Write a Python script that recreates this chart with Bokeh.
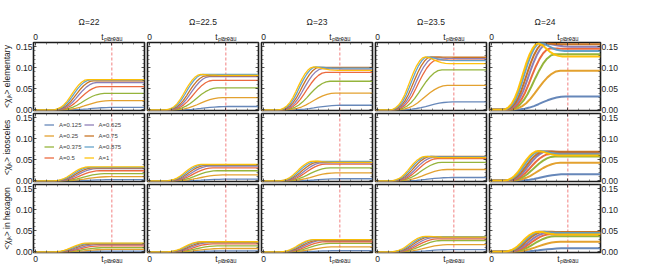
import numpy as np
from bokeh.plotting import figure
from bokeh.layouts import column, row
from bokeh.models import (LinearAxis, FixedTicker, PrintfTickFormatter, Span,
                          Legend, LegendItem, Range1d, CustomLabelingPolicy)
from bokeh.embed import file_html
from bokeh.resources import INLINE

# ---------------- data ----------------
A_LABELS = ["A=0.125", "A=0.25", "A=0.375", "A=0.5", "A=0.625", "A=0.75", "A=0.875", "A=1"]
COLORS = ["#5E81B5", "#E19C24", "#8FB032", "#EB6235", "#8778B3", "#C56E1A", "#5D9EC7", "#FFBF00"]
OMEGAS = ["Ω=22", "Ω=22.5", "Ω=23", "Ω=23.5", "Ω=24"]
ROW_LABELS = ["<χⱼₖ> elementary", "<χⱼₖ> isosceles", "<χⱼₖ> in hexagon"]
T_PLATEAU = 0.7
X_TICK_LABELS = ["0", "tₚₗₐₜₑₐᵤ"]
Y_TICKS = [0.0, 0.05, 0.10, 0.15]

# final (plateau) value of each curve, one list per Omega, A = 0.125 ... 1
PLATEAU_ELEMENTARY = [
    [0.006, 0.022, 0.039, 0.055, 0.065, 0.069, 0.071, 0.072],
    [0.008, 0.029, 0.052, 0.070, 0.079, 0.081, 0.084, 0.082],
    [0.011, 0.040, 0.068, 0.089, 0.097, 0.101, 0.099, 0.094],
    [0.019, 0.058, 0.095, 0.118, 0.122, 0.125, 0.117, 0.110],
    [0.032, 0.093, 0.132, 0.145, 0.150, 0.156, 0.140, 0.127],
]
# maximum value reached during the rise (overshoot)
PEAK_ELEMENTARY = [
    [0.006, 0.022, 0.039, 0.055, 0.065, 0.069, 0.071, 0.072],
    [0.008, 0.029, 0.052, 0.070, 0.079, 0.081, 0.084, 0.084],
    [0.011, 0.040, 0.068, 0.089, 0.098, 0.101, 0.102, 0.102],
    [0.019, 0.058, 0.095, 0.119, 0.124, 0.126, 0.126, 0.126],
    [0.032, 0.093, 0.132, 0.146, 0.157, 0.158, 0.160, 0.158],
]
PLATEAU_ISOSCELES = [
    [0.003, 0.010, 0.017, 0.024, 0.029, 0.031, 0.032, 0.033],
    [0.004, 0.014, 0.024, 0.031, 0.035, 0.037, 0.038, 0.039],
    [0.005, 0.019, 0.031, 0.040, 0.043, 0.045, 0.046, 0.044],
    [0.008, 0.027, 0.044, 0.053, 0.056, 0.058, 0.057, 0.055],
    [0.016, 0.043, 0.058, 0.064, 0.068, 0.069, 0.063, 0.060],
]
PEAK_ISOSCELES = [
    [0.003, 0.010, 0.017, 0.024, 0.029, 0.031, 0.032, 0.033],
    [0.004, 0.014, 0.024, 0.031, 0.035, 0.037, 0.038, 0.039],
    [0.005, 0.019, 0.031, 0.040, 0.043, 0.045, 0.046, 0.047],
    [0.008, 0.027, 0.044, 0.053, 0.056, 0.058, 0.058, 0.058],
    [0.016, 0.043, 0.058, 0.064, 0.070, 0.070, 0.071, 0.071],
]
PLATEAU_HEXAGON = [
    [0.002, 0.006, 0.010, 0.014, 0.017, 0.019, 0.020, 0.021],
    [0.0025, 0.008, 0.014, 0.019, 0.022, 0.023, 0.024, 0.024],
    [0.003, 0.012, 0.020, 0.024, 0.027, 0.028, 0.029, 0.029],
    [0.0055, 0.017, 0.027, 0.031, 0.034, 0.036, 0.036, 0.035],
    [0.0085, 0.024, 0.037, 0.042, 0.045, 0.047, 0.045, 0.041],
]
PEAK_HEXAGON = [
    [0.002, 0.006, 0.010, 0.014, 0.017, 0.019, 0.020, 0.021],
    [0.0025, 0.008, 0.014, 0.019, 0.022, 0.023, 0.024, 0.024],
    [0.003, 0.012, 0.020, 0.024, 0.027, 0.028, 0.029, 0.029],
    [0.0055, 0.017, 0.027, 0.031, 0.034, 0.036, 0.036, 0.037],
    [0.0085, 0.024, 0.037, 0.042, 0.045, 0.048, 0.048, 0.048],
]

# timing (fraction of the time axis)
RISE_START = [0.20, 0.18, 0.17, 0.16, 0.15, 0.14, 0.13, 0.12]
RISE_END = [0.70, 0.65, 0.60, 0.56, 0.53, 0.50, 0.47, 0.45]
OMEGA_SHIFT = [0.03, 0.02, 0.01, -0.01, -0.02]
# normalised shape of the rise and of the relaxation after the overshoot
RISE_PROFILE = [0, 0.01, 0.04, 0.09, 0.17, 0.28, 0.42, 0.57, 0.71, 0.83, 0.92, 0.98, 1.0]
DECAY_LENGTH = 0.22
DECAY_PROFILE = [0, 0.15, 0.42, 0.68, 0.86, 0.96, 1.0]

PLATEAUS = [PLATEAU_ELEMENTARY, PLATEAU_ISOSCELES, PLATEAU_HEXAGON]
PEAKS = [PEAK_ELEMENTARY, PEAK_ISOSCELES, PEAK_HEXAGON]

# ---------------- layout ----------------
FONT = "Liberation Sans"
FW, FH = 111, 68
X0, X1 = -0.02, 1.0
Y0, Y1 = -0.0015, 0.16
TICK_COLOR = "#333333"
PAD = 6          # vertical canvas padding so edge labels are not clipped


def curve(plat, peak, i, c):
    t0 = RISE_START[i] + OMEGA_SHIFT[c]
    t1 = RISE_END[i] + OMEGA_SHIFT[c]
    n = len(RISE_PROFILE) - 1
    ts = [X0] + [t0 + (t1 - t0) * k / n for k in range(n + 1)]
    ys = [0.0] + [peak * f for f in RISE_PROFILE]
    m = len(DECAY_PROFILE) - 1
    for k in range(1, m + 1):
        ts.append(t1 + DECAY_LENGTH * k / m)
        ys.append(peak - (peak - plat) * DECAY_PROFILE[k])
    ts.append(X1)
    ys.append(plat)
    return ts, ys


def style_axis(ax, labelled):
    ax.axis_line_color = None
    ax.major_tick_in = 3
    ax.major_tick_out = 0
    ax.minor_tick_in = 2
    ax.minor_tick_out = 0
    ax.major_tick_line_color = TICK_COLOR
    ax.minor_tick_line_color = TICK_COLOR
    ax.major_tick_line_width = 0.8
    ax.minor_tick_line_width = 0.6
    ax.major_label_text_font = FONT
    ax.major_label_text_color = "#222222"
    if labelled:
        ax.major_label_text_font_size = "8.5px"
        ax.major_label_standoff = 1
    else:
        ax.major_label_text_font_size = "1px"
        ax.major_label_standoff = 0
        ax.major_label_policy = CustomLabelingPolicy(code="return new Set()")


def y_axis(labelled):
    ax = LinearAxis(ticker=FixedTicker(ticks=Y_TICKS,
                                       minor_ticks=[k * 0.01 for k in range(17)]),
                    formatter=PrintfTickFormatter(format="%.2f"))
    style_axis(ax, labelled)
    return ax


def x_axis(labelled):
    ax = LinearAxis(ticker=FixedTicker(ticks=[0.0, T_PLATEAU],
                                       minor_ticks=[k * 0.1 for k in range(11)]))
    ax.major_label_overrides = {0.0: X_TICK_LABELS[0], T_PLATEAU: X_TICK_LABELS[1]}
    style_axis(ax, labelled)
    return ax


row_layouts = []
for r in range(3):
    figs = []
    for c in range(5):
        p = figure(frame_width=FW, frame_height=FH,
                   x_range=Range1d(X0, X1), y_range=Range1d(Y0, Y1),
                   x_axis_location=None, y_axis_location=None,
                   output_backend="svg", toolbar_location=None,
                   title=OMEGAS[c] if r == 0 else None,
                   min_border_left=4 if c > 0 else 0,
                   min_border_right=1 if c < 4 else 0,
                   min_border_top=PAD if r > 0 else 0,
                   min_border_bottom=PAD if r < 2 else 0,
                   margin=(0, 0, 0, -7) if c > 0 else (0, 0, 0, -2))
        p.grid.visible = False
        p.outline_line_color = "#1a1a1a"
        p.outline_line_width = 1.6
        p.background_fill_color = "white"
        p.border_fill_alpha = 0
        if r == 0:
            p.title.align = "center"
            p.title.text_font = FONT
            p.title.text_font_size = "8.5px"
            p.title.text_font_style = "normal"
            p.title.text_color = "#222222"
            p.title.standoff = 4

        ly = y_axis(c == 0)
        if c == 0:
            ly.axis_label = ROW_LABELS[r]
            ly.axis_label_text_font = FONT
            ly.axis_label_text_font_size = "8.5px"
            ly.axis_label_text_font_style = "normal"
            ly.axis_label_text_color = "#222222"
            ly.axis_label_standoff = 1
        p.add_layout(ly, "left")
        p.add_layout(y_axis(c == 4), "right")
        p.add_layout(x_axis(r == 0), "above")
        p.add_layout(x_axis(r == 2), "below")

        p.add_layout(Span(location=T_PLATEAU, dimension="height",
                          line_color="#F07070", line_dash="3 2",
                          line_width=0.9, level="underlay"))

        rends = []
        for i in range(8):
            ts, ys = curve(PLATEAUS[r][c][i], PEAKS[r][c][i], i, c)
            rr = p.line(ts, ys, line_color=COLORS[i],
                        line_width=2.0 if c == 4 else 1.3, line_alpha=0.95)
            rends.append(rr)

        if r == 1 and c == 0:
            items = [LegendItem(label=A_LABELS[i], renderers=[rends[i]]) for i in range(8)]
            leg = Legend(items=items, ncols=2, location=(11, 19),
                         label_text_font=FONT, label_text_font_size="6px",
                         label_text_color="#444444",
                         glyph_width=10, glyph_height=9, label_height=9,
                         label_standoff=5, spacing=2, padding=2, margin=0,
                         border_line_color=None, background_fill_alpha=0)
            p.add_layout(leg)
        figs.append(p)
    top_margin = 12 if r == 0 else -(2 * PAD - 3)
    row_layouts.append(row(figs, margin=(top_margin, 0, 0, 0)))

layout = column(row_layouts)

open("out.html", "w").write(file_html(layout, INLINE))
